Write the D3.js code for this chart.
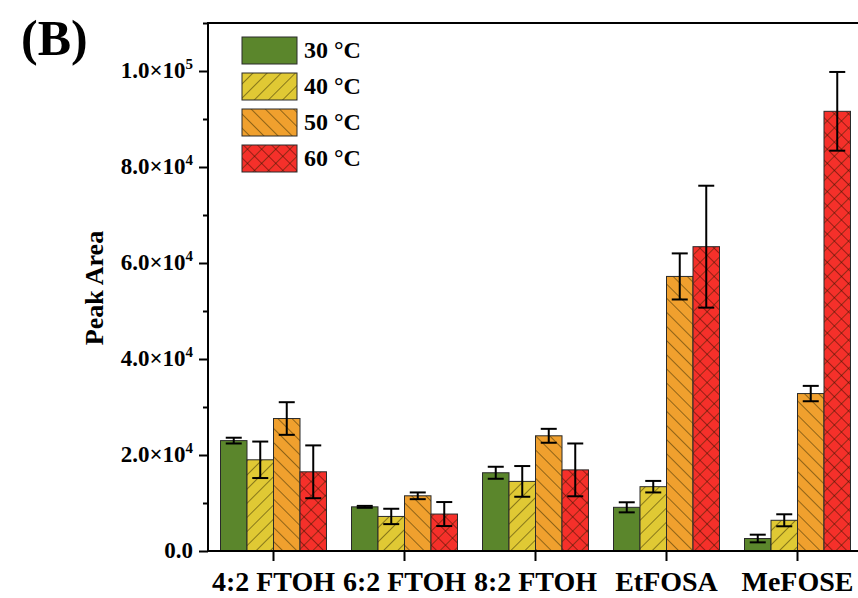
<!DOCTYPE html>
<html>
<head>
<meta charset="utf-8">
<script src="https://cdn.jsdelivr.net/npm/d3@7"></script>
<style>
  body { margin: 0; background: #fff; }
  svg text { font-family: "Liberation Serif", "Times New Roman", serif; font-weight: bold; fill: #000; }
</style>
</head>
<body>
<svg id="chart" width="858" height="598"></svg>
<script>
// categorias y series
const categorias = ['4:2 FTOH', '6:2 FTOH', '8:2 FTOH', 'EtFOSA', 'MeFOSE'];
const series = ['30 °C', '40 °C', '50 °C', '60 °C'];

const valores30 = [23000, 9200, 16300, 9100, 2600];
const valores40 = [19000, 7200, 14500, 13400, 6400];
const valores50 = [27600, 11500, 24000, 57200, 32800];
const valores60 = [16500, 7700, 16900, 63400, 91600];

const errores30 = [600, 200, 1250, 1050, 800];
const errores40 = [3800, 1600, 3200, 1200, 1250];
const errores50 = [3400, 700, 1450, 4800, 1600];
const errores60 = [5500, 2500, 5500, 12700, 8200];

const ticksY = [0, 20000, 40000, 60000, 80000, 100000];

const colores = ['#5b862c', '#e0c934', '#f0a02e', '#f5302a'];
const rellenos = ['solid', 'hatch-up', 'hatch-down', 'cross'];

const valoresPorSerie = [valores30, valores40, valores50, valores60];
const erroresPorSerie = [errores30, errores40, errores50, errores60];

const svg = d3.select('#chart');

const izquierda = 208, derecha = 863, arriba = 23, abajo = 551;

const x = d3.scaleBand().domain(categorias).range([izquierda, derecha]).padding(0);
const anchoGrupo = 106;
const x1 = d3.scaleBand().domain(series).range([0, anchoGrupo]).padding(0);
const y = d3.scaleLinear().domain([0, 110000]).range([abajo, arriba]);

// patrones de relleno
const defs = svg.append('defs');
function patron(id, color, angulo, cruz) {
    const p = defs.append('pattern')
        .attr('id', id)
        .attr('patternUnits', 'userSpaceOnUse')
        .attr('width', 10).attr('height', 10)
        .attr('patternTransform', `rotate(${angulo})`);
    p.append('rect').attr('width', 10).attr('height', 10).attr('fill', color);
    p.append('line').attr('x1', 0).attr('y1', 0).attr('x2', 0).attr('y2', 10)
        .attr('stroke', '#2e2600').attr('stroke-width', 1);
    if (cruz) {
        p.append('line').attr('x1', 0).attr('y1', 0).attr('x2', 10).attr('y2', 0)
            .attr('stroke', '#3a0800').attr('stroke-width', 1);
    }
}
patron('hatch-up', colores[1], 45, false);
patron('hatch-down', colores[2], -45, false);
patron('cross', colores[3], 45, true);

function rellenoDe(i) {
    return rellenos[i] === 'solid' ? colores[i] : `url(#${rellenos[i]})`;
}

// barras
series.forEach((s, i) => {
    const g = svg.append('g');
    g.selectAll('rect')
        .data(categorias)
        .enter().append('rect')
        .attr('x', (c) => x(c) + x.bandwidth() / 2 - anchoGrupo / 2 + x1(s))
        .attr('y', (c, j) => y(valoresPorSerie[i][j]))
        .attr('width', x1.bandwidth())
        .attr('height', (c, j) => abajo - y(valoresPorSerie[i][j]))
        .attr('fill', rellenoDe(i))
        .attr('stroke', '#2a2a2a')
        .attr('stroke-width', 1);
});

// barras de error
series.forEach((s, i) => {
    categorias.forEach((c, j) => {
        const cx = x(c) + x.bandwidth() / 2 - anchoGrupo / 2 + x1(s) + x1.bandwidth() / 2;
        const v = valoresPorSerie[i][j], e = erroresPorSerie[i][j];
        const g = svg.append('g').attr('stroke', '#000').attr('stroke-width', 2);
        g.append('line').attr('x1', cx).attr('x2', cx).attr('y1', y(v - e)).attr('y2', y(v + e));
        g.append('line').attr('x1', cx - 8).attr('x2', cx + 8).attr('y1', y(v + e)).attr('y2', y(v + e));
        g.append('line').attr('x1', cx - 8).attr('x2', cx + 8).attr('y1', y(v - e)).attr('y2', y(v - e));
    });
});

// marco
const marco = svg.append('g').attr('stroke', '#000').attr('stroke-width', 2).attr('fill', 'none');
marco.append('line').attr('x1', izquierda).attr('x2', izquierda).attr('y1', arriba).attr('y2', abajo);
marco.append('line').attr('x1', izquierda - 1).attr('x2', derecha).attr('y1', abajo).attr('y2', abajo);
marco.append('line').attr('x1', izquierda - 1).attr('x2', derecha).attr('y1', arriba).attr('y2', arriba);

// eje y
const ejeY = svg.append('g')
    .attr('transform', `translate(${izquierda},0)`)
    .call(d3.axisLeft(y).tickValues(d3.range(0, 110001, 10000)).tickSize(5).tickFormat(''));
ejeY.select('.domain').remove();
ejeY.selectAll('.tick line').attr('stroke', '#000').attr('stroke-width', 2)
    .attr('x2', d => ticksY.includes(d) ? -9 : -5);

ticksY.forEach(t => {
    const txt = svg.append('text')
        .attr('x', 193).attr('y', y(t) + 7)
        .attr('text-anchor', 'end')
        .style('font-size', '23px');
    if (t === 0) {
        txt.text('0.0');
    } else {
        const exp = Math.floor(Math.log10(t));
        const man = (t / Math.pow(10, exp)).toFixed(1);
        txt.append('tspan').text(man + '×10');
        txt.append('tspan').text(exp).attr('dy', -9).style('font-size', '15px');
    }
});

// eje x
const ejeX = svg.append('g')
    .attr('transform', `translate(0,${abajo})`)
    .call(d3.axisBottom(x).tickSize(10).tickFormat(''));
ejeX.select('.domain').remove();
ejeX.selectAll('.tick line').attr('stroke', '#000').attr('stroke-width', 2);

svg.selectAll('.etiqueta-x')
    .data(categorias)
    .enter().append('text')
    .attr('class', 'etiqueta-x')
    .attr('x', c => x(c) + x.bandwidth() / 2)
    .attr('y', 591)
    .attr('text-anchor', 'middle')
    .style('font-size', '28px')
    .text(c => c);

// titulo del eje y
svg.append('text')
    .attr('transform', 'translate(103,288) rotate(-90)')
    .attr('text-anchor', 'middle')
    .style('font-size', '26px')
    .text('Peak Area');

// etiqueta del panel
svg.append('text')
    .attr('x', 21).attr('y', 55)
    .style('font-size', '50px')
    .text('(B)');

// leyenda
const leyenda = svg.append('g');
series.forEach((s, i) => {
    const yy = 37 + i * 36;
    leyenda.append('rect')
        .attr('x', 242).attr('y', yy)
        .attr('width', 55).attr('height', 27)
        .attr('fill', rellenoDe(i))
        .attr('stroke', '#2a2a2a').attr('stroke-width', 1);
    leyenda.append('text')
        .attr('x', 304).attr('y', yy + 21)
        .style('font-size', '24px')
        .text(s);
});
</script>
</body>
</html>
